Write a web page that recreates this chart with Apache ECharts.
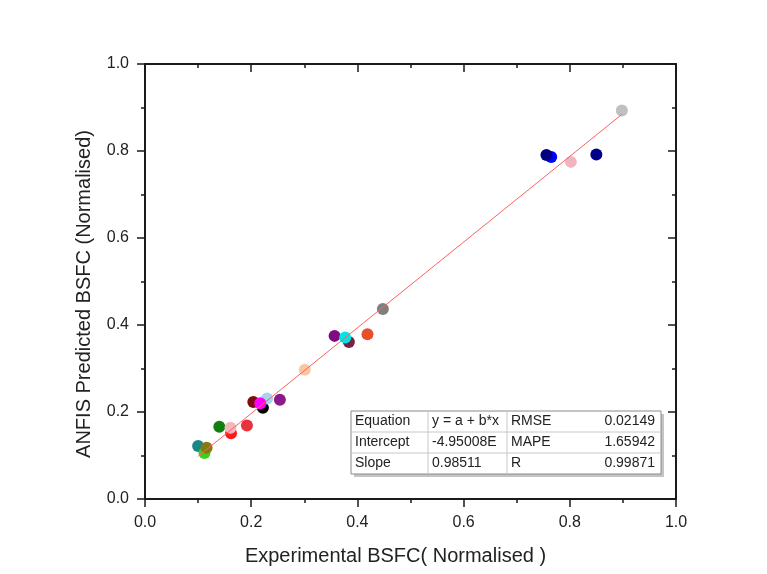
<!DOCTYPE html>
<html>
<head>
<meta charset="utf-8">
<title>ANFIS Predicted vs Experimental BSFC</title>
<script src="https://cdn.jsdelivr.net/npm/echarts@6/dist/echarts.min.js"></script>
<style>
  html, body { margin: 0; padding: 0; background: #ffffff; }
  #chart { width: 767px; height: 574px; }
</style>
</head>
<body>
<div id="chart"></div>
<script>
// Experimental (normalised) BSFC for each test point
const experimental = [
  0.100, 0.112, 0.116, 0.140, 0.162, 0.161, 0.192, 0.222, 0.230, 0.204, 0.217, 0.254,
  0.301, 0.357, 0.384, 0.377, 0.419, 0.448,
  0.765, 0.756, 0.802, 0.850, 0.898
];
// ANFIS predicted (normalised) BSFC for the same points
const predicted = [
  0.122, 0.106, 0.118, 0.166, 0.151, 0.164, 0.169, 0.210, 0.231, 0.223, 0.220, 0.228,
  0.297, 0.375, 0.361, 0.371, 0.379, 0.437,
  0.786, 0.791, 0.775, 0.792, 0.893
];
// Linear fit y = a + b*x
const fitIntercept = -4.95008e-4;
const fitSlope = 0.98511;
// Fit statistics table
const tableRows = [
  ['Equation', 'y = a + b*x', 'RMSE', '0.02149'],
  ['Intercept', '-4.95008E', 'MAPE', '1.65942'],
  ['Slope', '0.98511', 'R', '0.99871']
];
const xTickLabels = ['0.0', '0.2', '0.4', '0.6', '0.8', '1.0'];
const yTickLabels = ['0.0', '0.2', '0.4', '0.6', '0.8', '1.0'];

// One colour per test point
const pointColors = [
  '#1c8585', '#3ad11a', '#857a12', '#0f7f0f', '#ff1a1a', '#f4b5bc', '#e8333f', '#000000',
  '#a8d4ea', '#7f0b0b', '#ff00ff', '#8a1a8a',
  '#f8c8a0', '#7f0b80', '#7a2040', '#00e5e5', '#e8502a', '#808080',
  '#0000ff', '#000080', '#f2b5c0', '#00008a', '#c0c0c0'
];

const points = experimental.map((x, i) => [x, predicted[i]]);
const xMin = Math.min(...experimental);
const xMax = Math.max(...experimental);
const fitLine = [
  [xMin, fitIntercept + fitSlope * xMin],
  [xMax, fitIntercept + fitSlope * xMax]
];

const FONT = '"Liberation Sans", Arial, sans-serif';
const AXIS_COLOR = '#1a1a1a';

function tickFormatter(labels) {
  return function (v) {
    const idx = Math.round(v / 0.2);
    return labels[idx] !== undefined ? labels[idx] : '';
  };
}

function baseAxis(extra) {
  return Object.assign({
    type: 'value',
    min: 0,
    max: 1,
    interval: 0.2,
    splitLine: { show: false },
    minorSplitLine: { show: false },
    axisLine: { show: true, onZero: false, lineStyle: { color: AXIS_COLOR, width: 2 } },
    axisTick: { show: true, length: 8, lineStyle: { color: AXIS_COLOR, width: 1.5 } },
    minorTick: { show: true, splitNumber: 2, length: 4, lineStyle: { color: AXIS_COLOR, width: 1.5 } }
  }, extra);
}

// Fit statistics table drawn as graphic elements
const tbl = { left: 351, top: 411, rowH: 21, cols: [351, 428, 507, 661] };
const tblRight = tbl.cols[tbl.cols.length - 1];
const tblBottom = tbl.top + tbl.rowH * tableRows.length;
const tableGraphics = [];
tableGraphics.push({
  type: 'rect', z: 10,
  shape: { x: tbl.left + 3, y: tbl.top + 3, width: tblRight - tbl.left, height: tblBottom - tbl.top },
  style: { fill: '#c4c4c4' }
});
tableGraphics.push({
  type: 'rect', z: 11,
  shape: { x: tbl.left, y: tbl.top, width: tblRight - tbl.left, height: tblBottom - tbl.top },
  style: { fill: '#ffffff', stroke: '#8a8a8a', lineWidth: 1 }
});
for (let r = 1; r < tableRows.length; r++) {
  tableGraphics.push({
    type: 'line', z: 12,
    shape: { x1: tbl.left, y1: tbl.top + r * tbl.rowH, x2: tblRight, y2: tbl.top + r * tbl.rowH },
    style: { stroke: '#c8c8c8', lineWidth: 1 }
  });
}
for (let c = 1; c < tbl.cols.length - 1; c++) {
  tableGraphics.push({
    type: 'line', z: 12,
    shape: { x1: tbl.cols[c], y1: tbl.top, x2: tbl.cols[c], y2: tblBottom },
    style: { stroke: '#c8c8c8', lineWidth: 1 }
  });
}
tableRows.forEach((row, r) => {
  const cy = tbl.top + r * tbl.rowH + tbl.rowH / 2;
  row.forEach((txt, c) => {
    const isValue = c === 3;
    tableGraphics.push({
      type: 'text', z: 13,
      x: isValue ? tblRight - 6 : tbl.cols[Math.min(c, 2)] + 4,
      y: cy,
      style: {
        text: txt,
        fill: '#222222',
        font: '14px ' + FONT,
        align: isValue ? 'right' : 'left',
        verticalAlign: 'middle'
      }
    });
  });
});

const chart = echarts.init(document.getElementById('chart'), null, { renderer: 'canvas' });
chart.setOption({
  backgroundColor: '#ffffff',
  animation: false,
  grid: { left: 145, top: 64, right: 91, bottom: 75, containLabel: false },
  xAxis: [
    baseAxis({
      position: 'bottom',
      name: 'Experimental BSFC( Normalised )',
      nameLocation: 'middle',
      nameGap: 47,
      nameTextStyle: { fontFamily: FONT, fontSize: 20, color: '#222222', padding: [0, 30, 0, 0] },
      axisLabel: { show: true, fontFamily: FONT, fontSize: 16, color: '#222222', margin: 16, formatter: tickFormatter(xTickLabels) }
    }),
    baseAxis({
      position: 'top',
      axisTick: { show: true, inside: true, length: 8, lineStyle: { color: AXIS_COLOR, width: 1.5 } },
      minorTick: { show: true, splitNumber: 2, length: 4, lineStyle: { color: AXIS_COLOR, width: 1.5 } },
      axisLabel: { show: false }
    })
  ],
  yAxis: [
    baseAxis({
      position: 'left',
      name: 'ANFIS Predicted BSFC (Normalised)',
      nameLocation: 'middle',
      nameGap: 51,
      nameRotate: 90,
      nameTextStyle: { fontFamily: FONT, fontSize: 20, color: '#222222', padding: [0, 25, 0, 0] },
      axisLabel: { show: true, fontFamily: FONT, fontSize: 16, color: '#222222', margin: 16, formatter: tickFormatter(yTickLabels) }
    }),
    baseAxis({
      position: 'right',
      axisTick: { show: true, inside: true, length: 8, lineStyle: { color: AXIS_COLOR, width: 1.5 } },
      minorTick: { show: true, splitNumber: 2, length: 4, lineStyle: { color: AXIS_COLOR, width: 1.5 } },
      axisLabel: { show: false }
    })
  ],
  series: [
    {
      type: 'scatter',
      xAxisIndex: 0,
      yAxisIndex: 0,
      symbol: 'circle',
      symbolSize: 12,
      data: points,
      itemStyle: {
        opacity: 1,
        color: function (p) { return pointColors[p.dataIndex % pointColors.length]; }
      },
      z: 3
    },
    {
      type: 'line',
      xAxisIndex: 0,
      yAxisIndex: 0,
      data: fitLine,
      symbol: 'none',
      silent: true,
      lineStyle: { color: '#ff6060', width: 1 },
      z: 4
    }
  ],
  graphic: tableGraphics
});
</script>
</body>
</html>
